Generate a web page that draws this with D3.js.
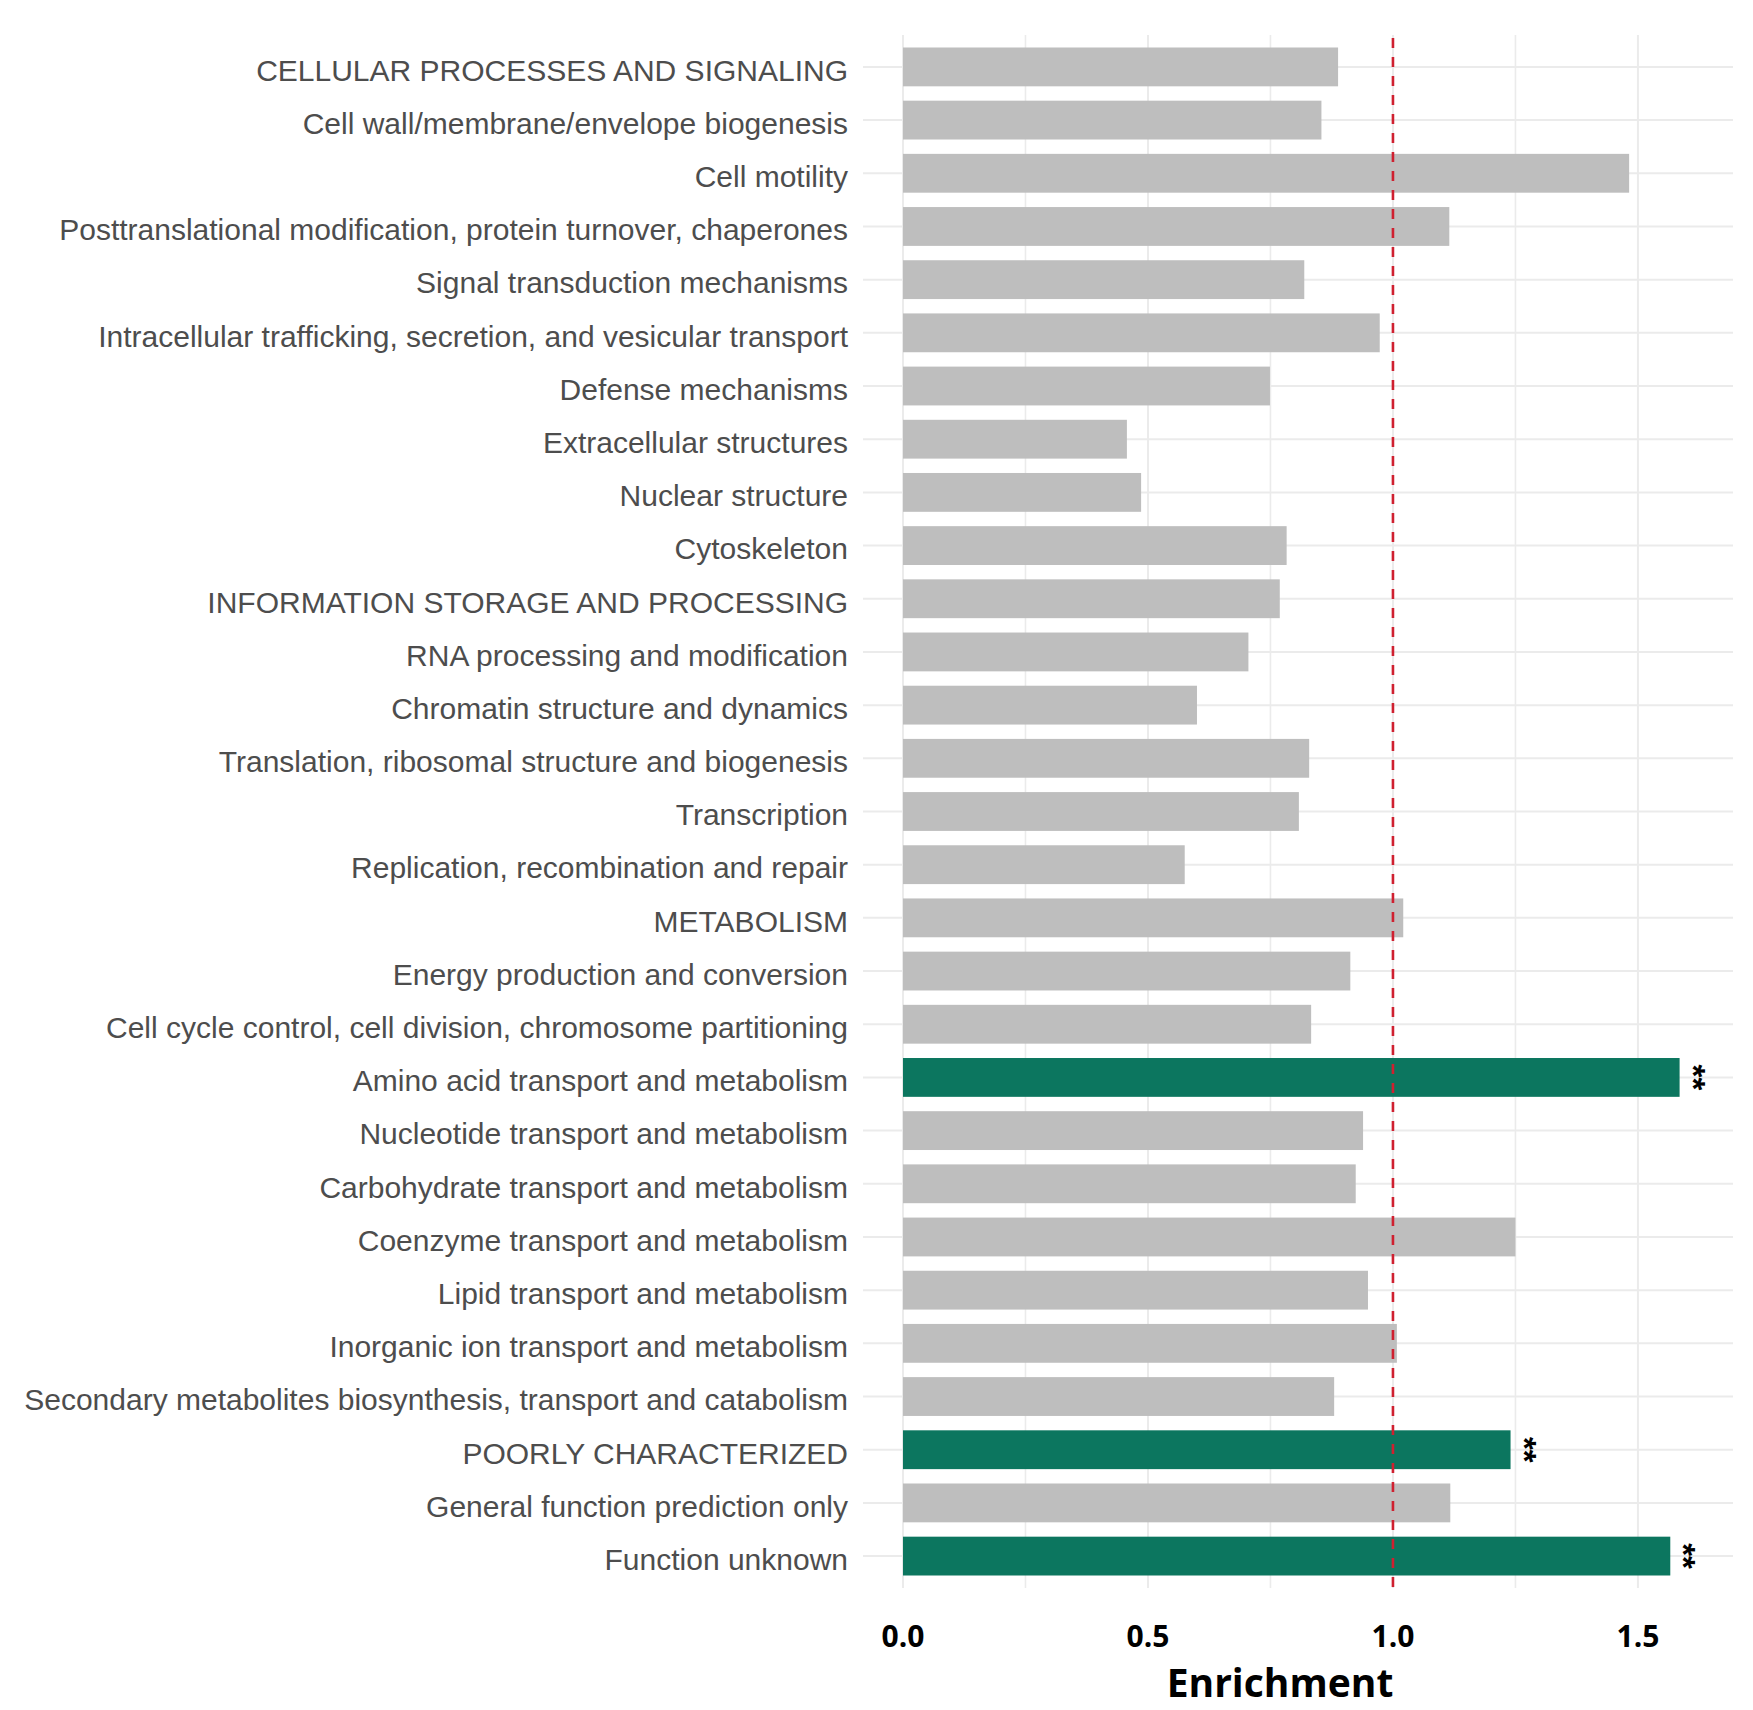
<!DOCTYPE html>
<html>
<head>
<meta charset="utf-8">
<script src="https://cdn.jsdelivr.net/npm/d3@7"></script>
<style>
  html, body { margin: 0; padding: 0; background: #fff; }
  svg { display: block; }
</style>
</head>
<body>
<div id="chart"></div>
<script>
// Data
const categories = [
  'CELLULAR PROCESSES AND SIGNALING',
  'Cell wall/membrane/envelope biogenesis',
  'Cell motility',
  'Posttranslational modification, protein turnover, chaperones',
  'Signal transduction mechanisms',
  'Intracellular trafficking, secretion, and vesicular transport',
  'Defense mechanisms',
  'Extracellular structures',
  'Nuclear structure',
  'Cytoskeleton',
  'INFORMATION STORAGE AND PROCESSING',
  'RNA processing and modification',
  'Chromatin structure and dynamics',
  'Translation, ribosomal structure and biogenesis',
  'Transcription',
  'Replication, recombination and repair',
  'METABOLISM',
  'Energy production and conversion',
  'Cell cycle control, cell division, chromosome partitioning',
  'Amino acid transport and metabolism',
  'Nucleotide transport and metabolism',
  'Carbohydrate transport and metabolism',
  'Coenzyme transport and metabolism',
  'Lipid transport and metabolism',
  'Inorganic ion transport and metabolism',
  'Secondary metabolites biosynthesis, transport and catabolism',
  'POORLY CHARACTERIZED',
  'General function prediction only',
  'Function unknown'
];

const enrichment = [
  0.888, 0.854, 1.482, 1.115, 0.819, 0.973, 0.749, 0.457, 0.486, 0.783,
  0.769, 0.705, 0.600, 0.829, 0.808, 0.575, 1.021, 0.913, 0.833, 1.585,
  0.939, 0.924, 1.250, 0.949, 1.008, 0.880, 1.240, 1.117, 1.566
];

const significance = [
  '', '', '', '', '', '', '', '', '', '',
  '', '', '', '', '', '', '', '', '', '**',
  '', '', '', '', '', '', '**', '', '**'
];

const xTicks = [0, 0.5, 1.0, 1.5];
const xMinorTicks = [0.25, 0.75, 1.25];
const referenceValue = 1.0;

// Layout
const CONFIG = {
  width: 1753,
  height: 1710,
  panel: { left: 863, right: 1733, top: 35, bottom: 1588 },
  labelX: 848,
  colors: {
    bar: '#bebebe',
    sig: '#0c765f',
    grid: '#ebebeb',
    ref: '#cf2030',
    label: '#4d4d4d'
  }
};

const data = categories.map((c, i) => ({
  category: c,
  value: enrichment[i],
  sig: significance[i]
}));

const svg = d3.select('#chart').append('svg')
  .attr('width', CONFIG.width)
  .attr('height', CONFIG.height)
  .attr('viewBox', [0, 0, CONFIG.width, CONFIG.height]);

const xScale = d3.scaleLinear()
  .domain([-0.0816, 1.694])
  .range([CONFIG.panel.left, CONFIG.panel.right]);

const yScale = d3.scalePoint()
  .domain(categories)
  .range([CONFIG.panel.top, CONFIG.panel.bottom])
  .padding(0.6);

const barHeight = yScale.step() * 0.73;

// Grid lines
const grid = svg.append('g').attr('class', 'grid');

grid.selectAll('.vminor')
  .data(xMinorTicks)
  .join('line')
  .attr('x1', d => xScale(d))
  .attr('x2', d => xScale(d))
  .attr('y1', CONFIG.panel.top)
  .attr('y2', CONFIG.panel.bottom)
  .attr('stroke', CONFIG.colors.grid)
  .attr('stroke-width', 1.6);

grid.selectAll('.vmajor')
  .data(xTicks)
  .join('line')
  .attr('x1', d => xScale(d))
  .attr('x2', d => xScale(d))
  .attr('y1', CONFIG.panel.top)
  .attr('y2', CONFIG.panel.bottom)
  .attr('stroke', CONFIG.colors.grid)
  .attr('stroke-width', 2);

grid.selectAll('.hmajor')
  .data(categories)
  .join('line')
  .attr('x1', CONFIG.panel.left)
  .attr('x2', CONFIG.panel.right)
  .attr('y1', d => yScale(d))
  .attr('y2', d => yScale(d))
  .attr('stroke', CONFIG.colors.grid)
  .attr('stroke-width', 2);

// Bars
svg.append('g')
  .selectAll('rect')
  .data(data)
  .join('rect')
  .attr('x', xScale(0))
  .attr('y', d => yScale(d.category) - barHeight / 2)
  .attr('width', d => xScale(d.value) - xScale(0))
  .attr('height', barHeight)
  .attr('fill', d => d.sig ? CONFIG.colors.sig : CONFIG.colors.bar);

// Reference line
svg.append('line')
  .attr('x1', xScale(referenceValue))
  .attr('x2', xScale(referenceValue))
  .attr('y1', CONFIG.panel.top + 3)
  .attr('y2', CONFIG.panel.bottom)
  .attr('stroke', CONFIG.colors.ref)
  .attr('stroke-width', 2.6)
  .attr('stroke-dasharray', '10,9');

// Significance stars (rotated, stacked)
svg.append('g')
  .selectAll('text')
  .data(data.filter(d => d.sig))
  .join('text')
  .attr('transform', d => `translate(${xScale(d.value + 0.046)}, ${yScale(d.category)}) rotate(90)`)
  .attr('text-anchor', 'middle')
  .attr('dy', '0.62em')
  .style('font-family', '"Liberation Sans", Arial, sans-serif')
  .style('font-weight', 'bold')
  .style('font-size', '33px')
  .attr('fill', '#000')
  .text(d => d.sig);

// Y labels
svg.append('g')
  .selectAll('text')
  .data(categories)
  .join('text')
  .attr('x', CONFIG.labelX)
  .attr('y', d => yScale(d))
  .attr('dy', '0.46em')
  .attr('text-anchor', 'end')
  .style('font-family', '"Liberation Sans", Arial, sans-serif')
  .style('font-size', '30px')
  .attr('fill', CONFIG.colors.label)
  .text(d => d);

// X axis tick labels
svg.append('g')
  .selectAll('text')
  .data(xTicks)
  .join('text')
  .attr('x', d => xScale(d))
  .attr('y', 1647)
  .attr('text-anchor', 'middle')
  .style('font-family', '"Open Sans", sans-serif')
  .style('font-weight', 'bold')
  .style('font-size', '30px')
  .attr('fill', '#000')
  .text(d => d3.format('.1f')(d));

// X axis title
svg.append('text')
  .attr('x', 1280)
  .attr('y', 1697)
  .attr('text-anchor', 'middle')
  .style('font-family', '"Open Sans", sans-serif')
  .style('font-weight', 'bold')
  .style('font-size', '39px')
  .attr('fill', '#000')
  .text('Enrichment');
</script>
</body>
</html>
